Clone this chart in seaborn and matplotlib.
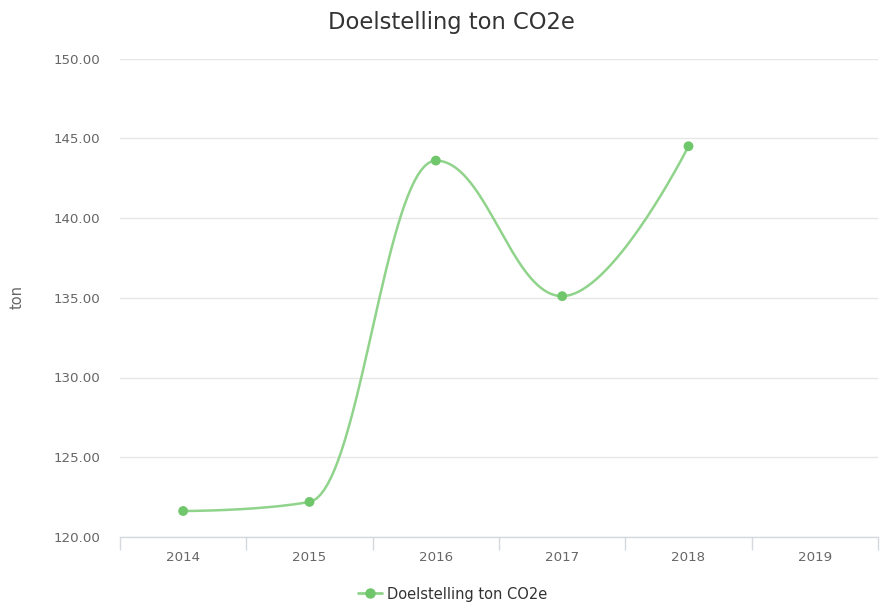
import numpy as np
import matplotlib
matplotlib.use("Agg")
import matplotlib.pyplot as plt
from matplotlib.lines import Line2D
import seaborn as sns

# data
years = ["2014", "2015", "2016", "2017", "2018", "2019"]
target_ton = [121.63, 122.2, 143.6, 135.1, 144.5, np.nan]
series_name = "Doelstelling ton CO2e"

line_color = "#90d38b"
marker_color = "#6fc66b"
axis_color = "#d5d8dd"


def spline_curve(xs, ys, smoothing=1.5, steps=40):
    # Highcharts-like spline: cubic Bezier segments between neighbours
    pts = [(x, y) for x, y in zip(xs, ys) if not np.isnan(y)]
    n = len(pts)
    left = [None] * n
    right = [None] * n
    for i in range(1, n - 1):
        px, py = pts[i]
        lx, ly = pts[i - 1]
        nx, ny = pts[i + 1]
        lcx = (smoothing * px + lx) / (smoothing + 1)
        lcy = (smoothing * py + ly) / (smoothing + 1)
        rcx = (smoothing * px + nx) / (smoothing + 1)
        rcy = (smoothing * py + ny) / (smoothing + 1)
        if rcx != lcx:
            corr = (rcy - lcy) * (rcx - px) / (rcx - lcx) + py - rcy
            lcy += corr
            rcy += corr
        # avoid false extremes
        if lcy > ly and lcy > py:
            lcy = max(ly, py)
            rcy = 2 * py - lcy
        elif lcy < ly and lcy < py:
            lcy = min(ly, py)
            rcy = 2 * py - lcy
        if rcy > ny and rcy > py:
            rcy = max(ny, py)
            lcy = 2 * py - rcy
        elif rcy < ny and rcy < py:
            rcy = min(ny, py)
            lcy = 2 * py - rcy
        left[i] = (lcx, lcy)
        right[i] = (rcx, rcy)
    cx, cy = [], []
    t = np.linspace(0, 1, steps)
    for i in range(1, n):
        p0 = np.array(pts[i - 1])
        p3 = np.array(pts[i])
        p1 = np.array(right[i - 1] if right[i - 1] else pts[i - 1])
        p2 = np.array(left[i] if left[i] else pts[i])
        seg = ((1 - t) ** 3)[:, None] * p0 + (3 * (1 - t) ** 2 * t)[:, None] * p1 \
            + (3 * (1 - t) * t ** 2)[:, None] * p2 + (t ** 3)[:, None] * p3
        cx.extend(seg[:, 0])
        cy.extend(seg[:, 1])
    return cx, cy


sns.set_style("white")
plt.rcParams["font.family"] = ["DejaVu Sans"]

fig = plt.figure(figsize=(8.82, 6.03), dpi=100)
ax = fig.add_axes([120 / 882, 66 / 603, 758 / 882, 478.5 / 603])

xpos = np.arange(len(years))
cx, cy = spline_curve(xpos, target_ton)
ax.plot(cx, cy, color=line_color, lw=1.8, solid_capstyle="round", zorder=3)
sns.scatterplot(x=xpos, y=target_ton, ax=ax, color=marker_color, s=50,
                edgecolor="none", zorder=4, legend=False)

ax.set_xlim(-0.5, len(years) - 0.5)
ax.set_ylim(120, 150)
ax.set_yticks(np.arange(120, 151, 5))
ax.set_yticklabels([f"{v:.2f}" for v in np.arange(120, 151, 5)])
ax.yaxis.grid(True, color="#e6e6e6", lw=1)
ax.xaxis.grid(False)

# category boundaries as ticks, labels at centers
ax.set_xticks(np.arange(-0.5, len(years), 1.0))
ax.set_xticklabels([])
ax.set_xticks(xpos, minor=True)
ax.set_xticklabels(years, minor=True)
ax.tick_params(axis="x", which="major", length=9, width=1, color=axis_color,
               direction="out", bottom=True)
ax.tick_params(axis="x", which="minor", length=0, pad=10,
               labelsize=9.6, labelcolor="#666666")
ax.tick_params(axis="y", length=0, pad=14, labelsize=9.6, labelcolor="#666666")

for side in ["top", "right", "left"]:
    ax.spines[side].set_visible(False)
ax.spines["bottom"].set_color(axis_color)
ax.spines["bottom"].set_linewidth(1)

fig.text(451 / 882, 1 - 22 / 603, series_name, ha="center", va="center",
         fontsize=16.3, color="#333333")
fig.text(17 / 882, 1 - 297 / 603, "ton", rotation=90, ha="center", va="center",
         fontsize=10.5, color="#666666")

handle = Line2D([], [], color=line_color, lw=2, marker="o", markersize=6.5,
                markerfacecolor=marker_color, markeredgecolor=marker_color)
fig.legend([handle], [series_name], loc="center", bbox_to_anchor=(453 / 882, 9 / 603),
           frameon=False, fontsize=10.5, labelcolor="#333333",
           handlelength=1.6, handletextpad=0.4)

fig.savefig("out.png", dpi=100)
